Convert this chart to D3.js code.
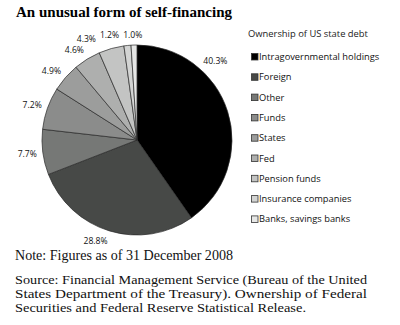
<!DOCTYPE html>
<html><head><meta charset="utf-8">
<script src="https://cdn.jsdelivr.net/npm/d3@7"></script>
<style>
body{margin:0;background:#fff;}
svg{display:block;}
</style></head>
<body>
<svg id="chart" width="400" height="325"></svg>
<script>
const categories = ["Intragovernmental holdings","Foreign","Other","Funds","States","Fed","Pension funds","Insurance companies","Banks, savings banks"];
const values = [40.3, 28.8, 7.7, 7.2, 4.9, 4.6, 4.3, 1.2, 1.0];
const valueLabels = ["40.3%","28.8%","7.7%","7.2%","4.9%","4.6%","4.3%","1.2%","1.0%"];
const colors = ["#000000","#474947","#767876","#8b8c8b","#9c9d9c","#aeafae","#c3c4c3","#d3d4d3","#e6e7e6"];
const title = "An unusual form of self-financing";
const legendTitle = "Ownership of US state debt";
const note = "Note: Figures as of 31 December 2008";
const sourceLines = ["Source: Financial Management Service (Bureau of the United",
  "States Department of the Treasury). Ownership of Federal",
  "Securities and Federal Reserve Statistical Release."];

const svg = d3.select("#chart");
const cx = 137, cy = 140, r = 95;

svg.append("text").attr("x",16).attr("y",17)
  .attr("font-family","Liberation Serif, serif").attr("font-weight","bold")
  .attr("font-size",15.5).attr("fill","#000")
  .attr("textLength",216).attr("lengthAdjust","spacingAndGlyphs").text(title);

const pie = d3.pie().sort(null).value(d=>d)(values);
const arc = d3.arc().innerRadius(0).outerRadius(r);
const g = svg.append("g").attr("transform",`translate(${cx},${cy})`);
g.selectAll("path").data(pie).join("path")
  .attr("d",arc).attr("fill",(d,i)=>colors[i])
  .attr("stroke","#2a2a2a").attr("stroke-width",0.7);

// labels
const lf = "Open Sans, sans-serif";
const lg = svg.append("g");
const R = r + 6;
const boxes = [];
pie.forEach((d,i)=>{
  const t = lg.append("text").attr("font-family",lf).attr("font-size",8.6).attr("fill","#111").text(valueLabels[i]);
  const w = t.node().getComputedTextLength();
  const h = 9;
  let th = (d.startAngle+d.endAngle)/2;
  const kfac = s => Math.max(-1, Math.min(1, s*3.5));
  const place = ang => {
    const px = cx + R*Math.sin(ang), py = cy - R*Math.cos(ang);
    return {x: px + kfac(Math.sin(ang))*w/2, y: py - Math.cos(ang)*h/2};
  };
  let p = place(th);
  // keep away from legend
  while (p.x + w/2 > 228 && th > 0) { th -= 0.01; p = place(th); }
  boxes.push({t, w, h, x:p.x, y:p.y});
});
// resolve overlaps among top cluster (right to left)
for (let i = boxes.length-2; i >= 0; i--) {
  const a = boxes[i], b = boxes[i+1];
  if (Math.abs(a.y-b.y) < a.h && a.x + a.w/2 > b.x - b.w/2 - 3 && a.x < b.x + b.w/2) {
    a.x = b.x - b.w/2 - 4 - a.w/2;
  }
}
boxes.forEach(b=>{
  b.t.attr("x",b.x).attr("y",b.y + 3.2).attr("text-anchor","middle");
});

// legend
const leg = svg.append("g");
const lx = 251, ly0 = 60, step = 20.3;
leg.append("text").attr("x",248).attr("y",37).attr("font-family",lf)
  .attr("font-size",9.4).attr("fill","#222").text(legendTitle);
categories.forEach((c,i)=>{
  const y = ly0 + i*step;
  leg.append("rect").attr("x",lx+0.5).attr("y",y-6.5).attr("width",6.5).attr("height",6.5)
    .attr("fill",colors[i]).attr("stroke","#333").attr("stroke-width",0.8);
  leg.append("text").attr("x",259).attr("y",y).attr("font-family",lf)
    .attr("font-size",9.3).attr("fill","#111").text(c);
});

// note & source
const sf = "Liberation Serif, serif";
svg.append("text").attr("x",15).attr("y",260).attr("font-family",sf)
  .attr("font-size",13.6).attr("fill","#111")
  .attr("textLength",218).attr("lengthAdjust","spacingAndGlyphs").text(note);
const srcLens = [352, 352, 291];
sourceLines.forEach((s,i)=>{
  svg.append("text").attr("x",15).attr("y",284+i*14).attr("font-family",sf)
    .attr("font-size",13.4).attr("fill","#111")
    .attr("textLength",srcLens[i]).attr("lengthAdjust","spacingAndGlyphs").text(s);
});
</script>
</body></html>
